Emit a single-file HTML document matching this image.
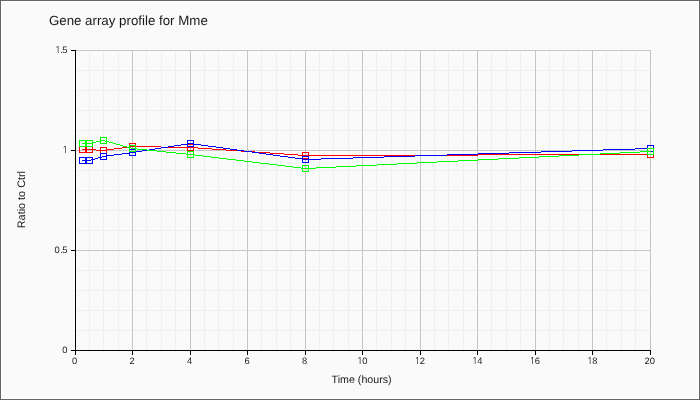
<!DOCTYPE html>
<html><head><meta charset="utf-8"><title>Gene array profile for Mme</title>
<style>html,body{margin:0;padding:0;background:#fafafa;}svg{display:block}</style></head>
<body><svg width="700" height="400" viewBox="0 0 700 400">
<g shape-rendering="crispEdges">
<path fill="#666666" d="M0 0h700v400h-700z"/>
<path fill="#ffffff" d="M1 1h698v398h-698z"/>
<path fill="#fafafa" d="M2 2h696v396h-696z"/>
<path fill="#efefef" d="M89 50h1v300h-1zM103 50h1v300h-1zM118 50h1v300h-1zM146 50h1v300h-1zM161 50h1v300h-1zM175 50h1v300h-1zM204 50h1v300h-1zM218 50h1v300h-1zM233 50h1v300h-1zM261 50h1v300h-1zM276 50h1v300h-1zM290 50h1v300h-1zM319 50h1v300h-1zM333 50h1v300h-1zM348 50h1v300h-1zM376 50h1v300h-1zM391 50h1v300h-1zM405 50h1v300h-1zM434 50h1v300h-1zM448 50h1v300h-1zM463 50h1v300h-1zM491 50h1v300h-1zM506 50h1v300h-1zM520 50h1v300h-1zM549 50h1v300h-1zM563 50h1v300h-1zM578 50h1v300h-1zM606 50h1v300h-1zM621 50h1v300h-1zM635 50h1v300h-1zM75 330h575v1h-575zM75 310h575v1h-575zM75 290h575v1h-575zM75 270h575v1h-575zM75 230h575v1h-575zM75 210h575v1h-575zM75 190h575v1h-575zM75 170h575v1h-575zM75 130h575v1h-575zM75 110h575v1h-575zM75 90h575v1h-575zM75 70h575v1h-575z"/>
<path fill="#c6c6c6" d="M75 50h1v300h-1zM132 50h1v300h-1zM190 50h1v300h-1zM247 50h1v300h-1zM305 50h1v300h-1zM362 50h1v300h-1zM420 50h1v300h-1zM477 50h1v300h-1zM535 50h1v300h-1zM592 50h1v300h-1zM650 50h1v300h-1zM75 350h576v1h-576zM75 250h576v1h-576zM75 150h576v1h-576zM75 50h576v1h-576z"/>
<path fill="#000000" d="M75 50h1v305h-1zM71 350h580v1h-580zM71 350h4v1h-4zM71 250h4v1h-4zM71 150h4v1h-4zM71 50h4v1h-4zM75 351h1v4h-1zM132 351h1v4h-1zM190 351h1v4h-1zM247 351h1v4h-1zM305 351h1v4h-1zM362 351h1v4h-1zM420 351h1v4h-1zM477 351h1v4h-1zM535 351h1v4h-1zM592 351h1v4h-1zM650 351h1v4h-1z"/>
<path fill="#ff0000" d="M129 146h32v1h-32zM122 147h7v1h-7zM161 147h37v1h-37zM114 148h8v1h-8zM198 148h14v1h-14zM82 149h14v1h-14zM107 149h7v1h-7zM212 149h14v1h-14zM96 150h11v1h-11zM226 150h15v1h-15zM241 151h14v1h-14zM255 152h15v1h-15zM270 153h14v1h-14zM284 154h14v1h-14zM478 154h173v1h-173zM298 155h180v1h-180zM79 146h7v1h-7zM79 152h7v1h-7zM79 147h1v5h-1zM85 147h1v5h-1zM86 146h7v1h-7zM86 152h7v1h-7zM86 147h1v5h-1zM92 147h1v5h-1zM100 147h7v1h-7zM100 153h7v1h-7zM100 148h1v5h-1zM106 148h1v5h-1zM129 143h7v1h-7zM129 149h7v1h-7zM129 144h1v5h-1zM135 144h1v5h-1zM187 144h7v1h-7zM187 150h7v1h-7zM187 145h1v5h-1zM193 145h1v5h-1zM302 152h7v1h-7zM302 158h7v1h-7zM302 153h1v5h-1zM308 153h1v5h-1zM647 151h7v1h-7zM647 157h7v1h-7zM647 152h1v5h-1zM653 152h1v5h-1z"/>
<path fill="#0000ff" d="M187 143h7v1h-7zM181 144h6v1h-6zM194 144h7v1h-7zM174 145h7v1h-7zM201 145h7v1h-7zM168 146h6v1h-6zM208 146h8v1h-8zM161 147h7v1h-7zM216 147h7v1h-7zM155 148h6v1h-6zM223 148h7v1h-7zM635 148h16v1h-16zM149 149h6v1h-6zM230 149h7v1h-7zM603 149h32v1h-32zM142 150h7v1h-7zM237 150h7v1h-7zM572 150h31v1h-31zM136 151h6v1h-6zM244 151h8v1h-8zM541 151h31v1h-31zM129 152h7v1h-7zM252 152h7v1h-7zM509 152h32v1h-32zM122 153h7v1h-7zM259 153h7v1h-7zM478 153h31v1h-31zM114 154h8v1h-8zM266 154h7v1h-7zM447 154h31v1h-31zM107 155h7v1h-7zM273 155h7v1h-7zM415 155h32v1h-32zM102 156h5v1h-5zM280 156h8v1h-8zM384 156h31v1h-31zM98 157h4v1h-4zM288 157h7v1h-7zM353 157h31v1h-31zM95 158h3v1h-3zM295 158h7v1h-7zM321 158h32v1h-32zM91 159h4v1h-4zM302 159h19v1h-19zM82 160h9v1h-9zM79 157h7v1h-7zM79 163h7v1h-7zM79 158h1v5h-1zM85 158h1v5h-1zM86 157h7v1h-7zM86 163h7v1h-7zM86 158h1v5h-1zM92 158h1v5h-1zM100 153h7v1h-7zM100 159h7v1h-7zM100 154h1v5h-1zM106 154h1v5h-1zM129 149h7v1h-7zM129 155h7v1h-7zM129 150h1v5h-1zM135 150h1v5h-1zM187 140h7v1h-7zM187 146h7v1h-7zM187 141h1v5h-1zM193 141h1v5h-1zM302 156h7v1h-7zM302 162h7v1h-7zM302 157h1v5h-1zM308 157h1v5h-1zM647 145h7v1h-7zM647 151h7v1h-7zM647 146h1v5h-1zM653 146h1v5h-1z"/>
<path fill="#00ff00" d="M101 140h4v1h-4zM96 141h5v1h-5zM105 141h4v1h-4zM92 142h4v1h-4zM109 142h4v1h-4zM82 143h10v1h-10zM113 143h3v1h-3zM116 144h4v1h-4zM120 145h3v1h-3zM123 146h4v1h-4zM127 147h4v1h-4zM131 148h6v1h-6zM137 149h10v1h-10zM147 150h10v1h-10zM157 151h9v1h-9zM640 151h11v1h-11zM166 152h10v1h-10zM620 152h20v1h-20zM176 153h10v1h-10zM600 153h20v1h-20zM186 154h9v1h-9zM579 154h21v1h-21zM195 155h8v1h-8zM559 155h20v1h-20zM203 156h8v1h-8zM539 156h20v1h-20zM211 157h8v1h-8zM519 157h20v1h-20zM219 158h8v1h-8zM498 158h21v1h-21zM227 159h9v1h-9zM478 159h20v1h-20zM236 160h8v1h-8zM458 160h20v1h-20zM244 161h8v1h-8zM437 161h21v1h-21zM252 162h8v1h-8zM417 162h20v1h-20zM260 163h9v1h-9zM397 163h20v1h-20zM269 164h8v1h-8zM377 164h20v1h-20zM277 165h8v1h-8zM356 165h21v1h-21zM285 166h8v1h-8zM336 166h20v1h-20zM293 167h8v1h-8zM316 167h20v1h-20zM301 168h15v1h-15zM79 140h7v1h-7zM79 146h7v1h-7zM79 141h1v5h-1zM85 141h1v5h-1zM86 140h7v1h-7zM86 146h7v1h-7zM86 141h1v5h-1zM92 141h1v5h-1zM100 137h7v1h-7zM100 143h7v1h-7zM100 138h1v5h-1zM106 138h1v5h-1zM129 145h7v1h-7zM129 151h7v1h-7zM129 146h1v5h-1zM135 146h1v5h-1zM187 151h7v1h-7zM187 157h7v1h-7zM187 152h1v5h-1zM193 152h1v5h-1zM302 165h7v1h-7zM302 171h7v1h-7zM302 166h1v5h-1zM308 166h1v5h-1zM647 148h7v1h-7zM647 154h7v1h-7zM647 149h1v5h-1zM653 149h1v5h-1z"/>
</g>
<g text-rendering="geometricPrecision">
<text x="48.9" y="24.6" font-size="13.3" fill="#1a1a1a" font-family="'Liberation Sans', sans-serif">Gene array profile for Mme</text>
<text y="353" font-size="9.33" fill="#1a1a1a" font-family="'Liberation Sans', sans-serif"><tspan x="62.31">0</tspan></text>
<text y="253" font-size="9.33" fill="#1a1a1a" font-family="'Liberation Sans', sans-serif"><tspan x="54.53">0</tspan><tspan x="60.22">.</tspan><tspan x="62.31">5</tspan></text>
<text y="153" font-size="9.33" fill="#1a1a1a" font-family="'Liberation Sans', sans-serif"><tspan x="62.20" font-family="NanumGothic, 'Liberation Sans', sans-serif">1</tspan></text>
<text y="53" font-size="9.33" fill="#1a1a1a" font-family="'Liberation Sans', sans-serif"><tspan x="54.92" font-family="NanumGothic, 'Liberation Sans', sans-serif">1</tspan><tspan x="60.22">.</tspan><tspan x="62.31">5</tspan></text>
<text y="364" font-size="9.33" fill="#1a1a1a" font-family="'Liberation Sans', sans-serif"><tspan x="72.11">0</tspan></text>
<text y="364" font-size="9.33" fill="#1a1a1a" font-family="'Liberation Sans', sans-serif"><tspan x="129.61">2</tspan></text>
<text y="364" font-size="9.33" fill="#1a1a1a" font-family="'Liberation Sans', sans-serif"><tspan x="187.11">4</tspan></text>
<text y="364" font-size="9.33" fill="#1a1a1a" font-family="'Liberation Sans', sans-serif"><tspan x="244.61">6</tspan></text>
<text y="364" font-size="9.33" fill="#1a1a1a" font-family="'Liberation Sans', sans-serif"><tspan x="302.11">8</tspan></text>
<text y="364" font-size="9.33" fill="#1a1a1a" font-family="'Liberation Sans', sans-serif"><tspan x="356.90" font-family="NanumGothic, 'Liberation Sans', sans-serif">1</tspan><tspan x="362.20">0</tspan></text>
<text y="364" font-size="9.33" fill="#1a1a1a" font-family="'Liberation Sans', sans-serif"><tspan x="414.40" font-family="NanumGothic, 'Liberation Sans', sans-serif">1</tspan><tspan x="419.70">2</tspan></text>
<text y="364" font-size="9.33" fill="#1a1a1a" font-family="'Liberation Sans', sans-serif"><tspan x="471.90" font-family="NanumGothic, 'Liberation Sans', sans-serif">1</tspan><tspan x="477.20">4</tspan></text>
<text y="364" font-size="9.33" fill="#1a1a1a" font-family="'Liberation Sans', sans-serif"><tspan x="529.40" font-family="NanumGothic, 'Liberation Sans', sans-serif">1</tspan><tspan x="534.70">6</tspan></text>
<text y="364" font-size="9.33" fill="#1a1a1a" font-family="'Liberation Sans', sans-serif"><tspan x="586.90" font-family="NanumGothic, 'Liberation Sans', sans-serif">1</tspan><tspan x="592.20">8</tspan></text>
<text y="364" font-size="9.33" fill="#1a1a1a" font-family="'Liberation Sans', sans-serif"><tspan x="644.51">20</tspan></text>
<text x="361.6" y="382.6" font-size="10.67" text-anchor="middle" fill="#1a1a1a" font-family="'Liberation Sans', sans-serif">Time (hours)</text>
<text x="0" y="0" font-size="10.85" text-anchor="middle" fill="#1a1a1a" font-family="'Liberation Sans', sans-serif" transform="translate(24.6 199.6) rotate(-90)">Ratio to Ctrl</text>
</g>
</svg></body></html>
